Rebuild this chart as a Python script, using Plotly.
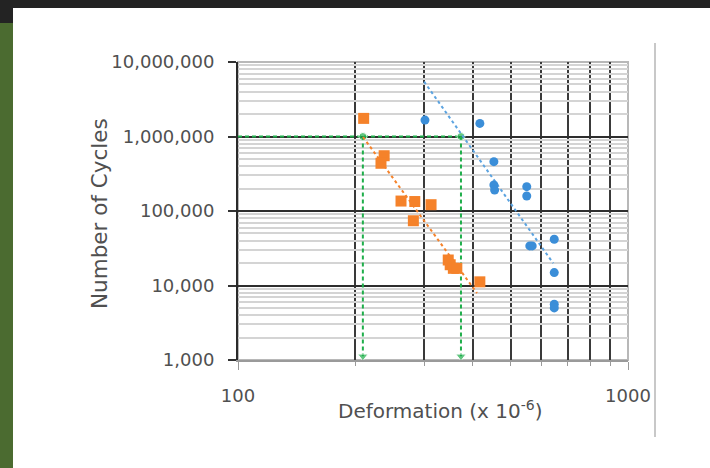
import plotly.graph_objects as go

# ---- data ----
orange_x = [210, 237, 232.6, 261.8, 284, 312.6, 281.6, 346, 350, 356.6, 364, 417]
orange_y = [1.75e6, 552e3, 437e3, 136e3, 134e3, 121.5e3, 74e3, 22e3, 19e3, 17e3, 17e3, 11.2e3]

blue_x = [301.6, 417, 453, 453, 455, 550, 550, 560, 568, 647, 647, 647, 647]
blue_y = [1.66e6, 1.5e6, 459e3, 223e3, 191e3, 212e3, 159e3, 34e3, 34e3, 41.7e3, 14.9e3, 5.6e3, 5.0e3]

orange_trend_x = [209.2, 410]
orange_trend_y = [984e3, 7.9e3]
blue_trend_x = [300, 643]
blue_trend_y = [5.45e6, 19.9e3]

target_cycles = 1e6
limit_def = [209, 373]
x_start = 100
y_bottom = 1.12e3

x_major = [100, 1000]
x_labels = ["100", "1000"]
x_minor = [200, 300, 400, 500, 600, 700, 800, 900]
y_major = [1e3, 1e4, 1e5, 1e6, 1e7]
y_labels = ["1,000", "10,000", "100,000", "1,000,000", "10,000,000"]
y_minor = [m * d for d in [1e3, 1e4, 1e5, 1e6] for m in range(2, 10)]

x_title = "Deformation (x 10<sup>-6</sup>)"
y_title = "Number of Cycles"

ORANGE = "#F5822A"
BLUE = "#3B8ED8"
GREEN = "#1FAE4B"
TXT = "#505050"
FONT = "DejaVu Sans"

fig = go.Figure()

# green guide lines
fig.add_trace(go.Scatter(x=[x_start, limit_def[1]], y=[target_cycles, target_cycles],
                         mode="lines", line=dict(color=GREEN, width=2, dash="4px,3px"),
                         hoverinfo="skip", showlegend=False))
for xv in limit_def:
    fig.add_trace(go.Scatter(x=[xv, xv], y=[target_cycles, y_bottom],
                             mode="lines+markers",
                             line=dict(color=GREEN, width=2, dash="4px,3px"),
                             marker=dict(symbol=["circle", "triangle-down"], size=[8, 9], color=GREEN),
                             hoverinfo="skip", showlegend=False))

# trend lines
fig.add_trace(go.Scatter(x=orange_trend_x, y=orange_trend_y, mode="lines",
                         line=dict(color=ORANGE, width=2, dash="dot"), showlegend=False))
fig.add_trace(go.Scatter(x=blue_trend_x, y=blue_trend_y, mode="lines",
                         line=dict(color="#5BA3E0", width=2, dash="dot"), showlegend=False))

# data points
fig.add_trace(go.Scatter(x=orange_x, y=orange_y, mode="markers",
                         marker=dict(symbol="square", size=11, color=ORANGE), showlegend=False))
fig.add_trace(go.Scatter(x=blue_x, y=blue_y, mode="markers",
                         marker=dict(symbol="circle", size=9, color=BLUE), showlegend=False))

W, H = 710, 468
L, R, T, B = 238, 628, 62, 360
pw, ph = R - L, B - T

def px(x):
    return (x - L) / pw

def py(y):
    return (B - y) / ph

shapes = [
    # dark top band and top-left corner
    dict(type="rect", xref="paper", yref="paper", x0=px(0), x1=px(W), y0=py(8), y1=py(-2),
         fillcolor="#232323", line=dict(width=0), layer="above"),
    dict(type="rect", xref="paper", yref="paper", x0=px(0), x1=px(13), y0=py(23), y1=py(-2),
         fillcolor="#232323", line=dict(width=0), layer="above"),
    # green strip on the left
    dict(type="rect", xref="paper", yref="paper", x0=px(0), x1=px(13), y0=py(H + 2), y1=py(23),
         fillcolor="#4B6B30", line=dict(width=0), layer="above"),
    # right separator line
    dict(type="line", xref="paper", yref="paper", x0=px(655), x1=px(655), y0=py(437), y1=py(43),
         line=dict(color="#C8C8C8", width=2)),
    # plot frame
    dict(type="rect", xref="paper", yref="paper", x0=0, x1=1, y0=0, y1=1,
         line=dict(color="#B8B8B8", width=2), layer="below"),
]

annotations = [
    dict(text=x_title, xref="paper", yref="paper", x=px(440), y=py(410),
         xanchor="center", yanchor="middle", showarrow=False,
         font=dict(size=20, family=FONT, color=TXT)),
    dict(text=y_title, xref="paper", yref="paper", x=px(100), y=py(214),
         xanchor="center", yanchor="middle", showarrow=False, textangle=-90,
         font=dict(size=21.5, family=FONT, color=TXT)),
]

fig.update_layout(
    width=W, height=H,
    margin=dict(l=L, r=W - R, t=T, b=H - B),
    paper_bgcolor="white", plot_bgcolor="white",
    shapes=shapes, annotations=annotations,
    font=dict(family=FONT, color=TXT),
    xaxis=dict(type="log", range=[2, 3], tickvals=x_major, ticktext=x_labels,
               showgrid=True, gridcolor="#3A3A3A", gridwidth=2,
               minor=dict(tickvals=x_minor, showgrid=True, gridcolor="#3A3A3A", gridwidth=2,
                          ticks="outside", ticklen=4, tickcolor="#999999"),
               ticks="outside", ticklen=8, tickcolor="#999999", tickwidth=1,
               ticklabelstandoff=10, tickfont=dict(size=18, family=FONT, color=TXT),
               showline=True, linecolor="#9A9A9A", linewidth=2, mirror=False, zeroline=False),
    yaxis=dict(type="log", range=[3, 7], tickvals=y_major, ticktext=y_labels,
               showgrid=True, gridcolor="#2E2E2E", gridwidth=2,
               minor=dict(tickvals=y_minor, showgrid=True, gridcolor="#D4D4D4", gridwidth=2, ticks=""),
               ticks="outside", ticklen=8, tickcolor="#333333", tickwidth=2,
               ticklabelstandoff=10, tickfont=dict(size=18, family=FONT, color=TXT),
               showline=True, linecolor="#2A2A2A", linewidth=2, zeroline=False),
)

fig.write_html("out.html", config={"displayModeBar": False},
               post_script="document.body.style.margin='0';")
